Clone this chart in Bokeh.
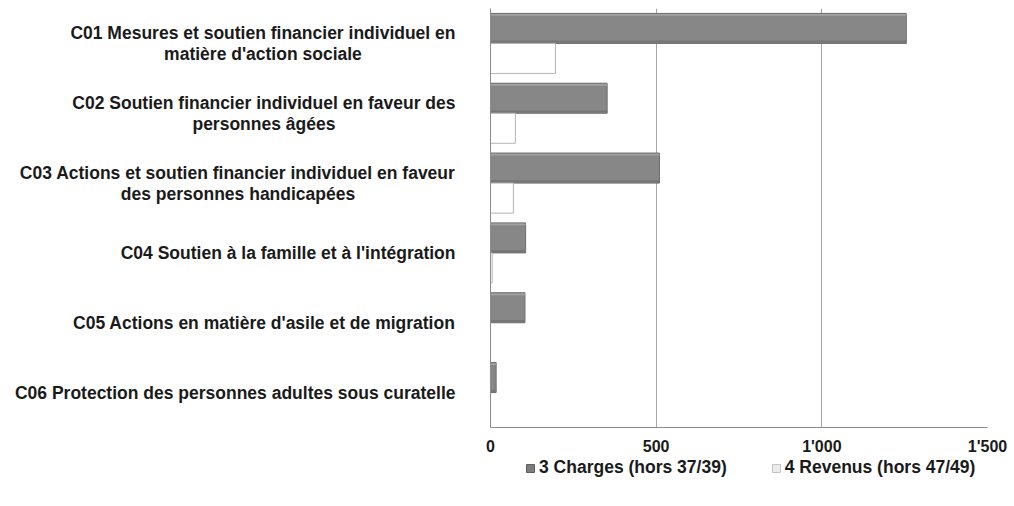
import glob
from bokeh.plotting import figure
from bokeh.layouts import row, column
from bokeh.models import ColumnDataSource, Range1d, Legend, LegendItem, FixedTicker, CustomJSTickFormatter
from bokeh.core.properties import value
from bokeh.embed import file_html
from bokeh.resources import INLINE

categories = [
    ["C01 Mesures et soutien financier individuel en", "matière d'action sociale"],
    ["C02 Soutien financier individuel en faveur des", "personnes âgées"],
    ["C03 Actions et soutien financier individuel en faveur", "des personnes handicapées"],
    ["C04 Soutien à la famille et à l'intégration"],
    ["C05 Actions en matière d'asile et de migration"],
    ["C06 Protection des personnes adultes sous curatelle"],
]
charges = [1255, 352, 510, 106, 104, 17]
revenus = [196, 75, 69, 5, 0, 0]
series_names = ["3 Charges (hors 37/39)", "4 Revenus (hors 47/49)"]
x_ticks = [0, 500, 1000, 1500]

FONT = "Liberation Sans"
LABEL_SIZE = 17.5
TXT = "#1a1a1a"


def text_width(s, size):
    try:
        from PIL import ImageFont
        paths = glob.glob("/usr/share/fonts/**/LiberationSans-Bold.ttf", recursive=True)
        f = ImageFont.truetype(paths[0], 100)
        return f.getlength(s) * size / 100.0
    except Exception:
        return len(s) * size * 0.6


n = len(categories)
centers = [i + 0.5 for i in range(n)]
bh = 0.43
y_range = Range1d(n, 0)

FRAME_H = 419
TOP = 8
BOTTOM = 28
LEFT_W = 480

# ---------------- main chart ----------------
src = ColumnDataSource(dict(
    y1=[c - bh / 2 for c in centers],
    y2=[c + bh / 2 for c in centers],
    hi=[c - bh + 0.022 for c in centers],
    lo=[c - 0.025 for c in centers],
    charges=charges, revenus=revenus,
))

p = figure(
    frame_width=497, frame_height=FRAME_H,
    y_range=y_range, x_range=Range1d(0, 1500),
    output_backend="svg", toolbar_location=None,
    min_border_left=10, min_border_right=24, min_border_top=TOP, min_border_bottom=BOTTOM,
)
p.outline_line_color = None
p.background_fill_color = "white"
p.border_fill_color = "white"

p.hbar(y="y1", right="charges", left=0, height=bh, source=src,
       fill_color="#878787", line_color="#6c6c6c", line_width=1)
p.hbar(y="hi", right="charges", left=0, height=0.025, source=src,
       fill_color="#a2a2a2", line_color=None)
p.hbar(y="lo", right="charges", left=0, height=0.03, source=src,
       fill_color="#767676", line_color=None)
p.hbar(y="y2", right="revenus", left=0, height=bh, source=src,
       fill_color="#ffffff", line_color="#b4b4b4", line_width=1)

p.xaxis.ticker = FixedTicker(ticks=x_ticks)
p.xaxis.formatter = CustomJSTickFormatter(code="return tick >= 1000 ? Math.floor(tick/1000) + \"'\" + String(tick % 1000).padStart(3,'0') : String(tick);")
p.xgrid.ticker = FixedTicker(ticks=x_ticks[1:])
p.xgrid.grid_line_color = "#a6a6a6"
p.ygrid.grid_line_color = None
p.yaxis.ticker = FixedTicker(ticks=[])
p.yaxis.major_label_standoff = 0

for ax in (p.xaxis, p.yaxis):
    ax.axis_line_color = "#8c8c8c"
    ax.major_tick_line_color = None
    ax.minor_tick_line_color = None
    ax.major_tick_out = 0
    ax.major_tick_in = 0
    ax.major_label_text_font = FONT
    ax.major_label_text_font_style = "bold"
    ax.major_label_text_color = TXT

p.xaxis.major_label_text_font_size = "16px"
p.xaxis.major_label_standoff = 10

# ---------------- category labels ----------------
lab = figure(
    width=LEFT_W, frame_height=FRAME_H,
    x_range=Range1d(0, LEFT_W), y_range=y_range,
    x_axis_type=None, y_axis_type=None,
    output_backend="svg", toolbar_location=None,
    min_border_left=0, min_border_right=0, min_border_top=TOP, min_border_bottom=BOTTOM,
)
lab.outline_line_color = None
lab.grid.visible = False

RIGHT_EDGE = 455
DY = 0.15
tx, ty, tt, ta = [], [], [], []
for c, lines in zip(centers, categories):
    if len(lines) == 1:
        tx.append(RIGHT_EDGE); ty.append(c); tt.append(lines[0]); ta.append("right")
    else:
        w1 = text_width(lines[0], LABEL_SIZE)
        tx.append(RIGHT_EDGE); ty.append(c - DY); tt.append(lines[0]); ta.append("right")
        tx.append(RIGHT_EDGE - w1 / 2); ty.append(c + DY); tt.append(lines[1]); ta.append("center")
lab.text(x="x", y="y", text="t", text_align="a",
         source=ColumnDataSource(dict(x=tx, y=ty, t=tt, a=ta)),
         text_baseline="middle", text_font=value(FONT), text_font_style="bold",
         text_font_size=f"{LABEL_SIZE}px", text_color=TXT)

# ---------------- legend ----------------
LEG_H = 506 - (TOP + FRAME_H + BOTTOM)
leg = figure(
    width=LEFT_W + 531, height=LEG_H,
    x_range=Range1d(0, 1), y_range=Range1d(0, 1),
    x_axis_type=None, y_axis_type=None,
    output_backend="svg", toolbar_location=None,
    min_border=0,
)
leg.outline_line_color = None
leg.grid.visible = False
# swatch renderers kept outside the visible range: only their legend glyphs are seen
swatch = ColumnDataSource(dict(y=[-5], right=[0]))
g1 = leg.hbar(y="y", right="right", left=0, height=1, source=swatch,
              fill_color="#7c7c7c", line_color="#5e5e5e")
g2 = leg.hbar(y="y", right="right", left=0, height=1, source=swatch,
              fill_color="#ececec", line_color="#c4c4c4")
legend = Legend(
    items=[LegendItem(label=series_names[0], renderers=[g1]),
           LegendItem(label=series_names[1], renderers=[g2])],
    orientation="horizontal", location=(525, LEG_H - 21),
    label_text_font=FONT, label_text_font_style="bold", label_text_font_size=f"{LABEL_SIZE}px",
    label_text_color=TXT,
    glyph_width=10, glyph_height=10, label_standoff=4, spacing=44,
    border_line_color=None, background_fill_alpha=0, margin=0, padding=0,
)
leg.add_layout(legend, "center")

layout = column(row(lab, p), leg)
open("out.html", "w").write(file_html(layout, INLINE))
